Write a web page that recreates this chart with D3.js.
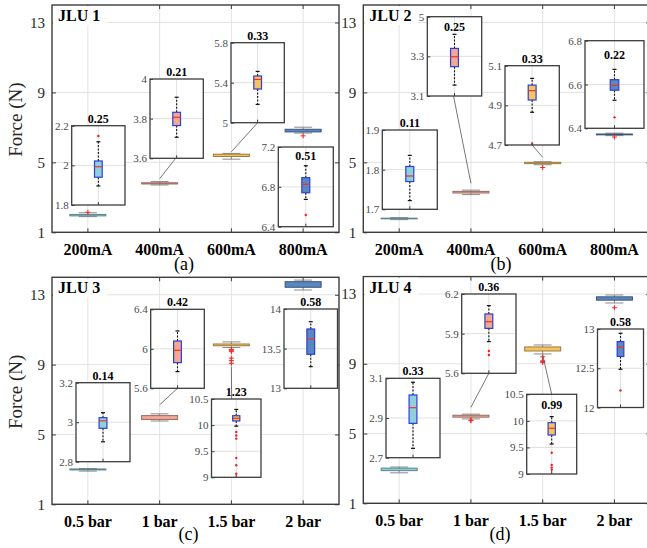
<!DOCTYPE html>
<html>
<head>
<meta charset="utf-8">
<script src="https://cdn.jsdelivr.net/npm/d3@7"></script>
<style>
body { margin: 0; background: #fff; }
svg text { font-family: "Liberation Serif", "Times New Roman", serif; }
</style>
</head>
<body>
<svg id="svg"></svg>
<script>
var currentCats = ["200mA", "400mA", "600mA", "800mA"];
var pressureCats = ["0.5 bar", "1 bar", "1.5 bar", "2 bar"];
var mainTicks = [1, 5, 9, 13];

// box stats per category: [lower whisker, q1, median, q3, upper whisker]
var jlu1Box = [[1.896, 1.94, 1.993, 2.022, 2.119], [3.706, 3.765, 3.807, 3.832, 3.908], [5.183, 5.337, 5.433, 5.467, 5.513], [6.674, 6.741, 6.825, 6.892, 7.012]];
var jlu1Out = [[2.148], [], [], [6.517]];
var jlu1Spread = ["0.25", "0.21", "0.33", "0.51"];
var jlu1Ticks = [[1.8, 2, 2.2], [3.6, 3.8, 4], [5, 5.4, 5.8], [6.4, 6.8, 7.2]];

var jlu2Box = [[1.722, 1.77, 1.784, 1.808, 1.836], [3.155, 3.248, 3.298, 3.34, 3.411], [4.865, 4.927, 4.974, 5.002, 5.036], [6.528, 6.574, 6.596, 6.622, 6.669]];
var jlu2Out = [[], [], [4.705], [6.45]];
var jlu2Spread = ["0.11", "0.25", "0.33", "0.22"];
var jlu2Ticks = [[1.7, 1.8, 1.9], [3.1, 3.3, 3.5], [4.7, 4.9, 5.1], [6.4, 6.6, 6.8]];

var jlu3Box = [[2.901, 2.969, 3.007, 3.023, 3.048], [5.769, 5.86, 5.985, 6.079, 6.181], [9.98, 10.08, 10.13, 10.18, 10.3], [13.273, 13.429, 13.622, 13.748, 13.84]];
var jlu3Out = [[], [], [9.07, 9.23, 9.37, 9.74, 9.8, 9.87], []];
var jlu3Spread = ["0.14", "0.42", "1.23", "0.58"];
var jlu3Ticks = [[2.8, 3, 3.2], [5.6, 6, 6.4], [9, 9.5, 10, 10.5], [13, 13.5, 14]];

var jlu4Box = [[2.747, 2.873, 2.952, 3.016, 3.08], [5.84, 5.94, 5.99, 6.049, 6.112], [9.564, 9.734, 9.86, 9.966, 10.08], [12.487, 12.65, 12.77, 12.84, 12.945]];
var jlu4Out = [[], [5.739, 5.769], [9.08, 9.12, 9.17, 9.4], [12.216]];
var jlu4Spread = ["0.33", "0.36", "0.99", "0.58"];
var jlu4Ticks = [[2.7, 2.9, 3.1], [5.6, 5.9, 6.2], [9, 9.5, 10, 10.5], [12, 12.5, 13]];

var boxColors = ["#8fd0dc", "#f4a795", "#f5c461", "#5b87c0"];

// layout: inset boxes [x, y, w, h], label baseline offset, link offset from median, link x shift
var panels = [
	{ title: "JLU 1", tag: "(a)", tagX: 184, tagY: 270, ylabel: true, left: 52, top: 5, bottom: 232.3,
		cats: currentCats, box: jlu1Box, out: jlu1Out, spread: jlu1Spread, ticks: jlu1Ticks,
		insets: [[71.7, 125.7, 53.3, 79.3], [150, 79, 53.3, 79.3], [231, 42.7, 53.3, 80], [278.3, 147, 55, 79.7]],
		labelDy: [-3, -3, -3, 13], link: [null, -4.5, -3, null], linkDx: [0, -1, 0, 0] },
	{ title: "JLU 2", tag: "(b)", tagX: 501, tagY: 270, ylabel: false, left: 363.3, top: 5, bottom: 232.3,
		cats: currentCats, box: jlu2Box, out: jlu2Out, spread: jlu2Spread, ticks: jlu2Ticks,
		insets: [[382.3, 130, 55, 79.3], [427.3, 16.7, 54.4, 79.3], [505, 65.7, 54.3, 79.3], [585, 40.7, 59, 87.6]],
		labelDy: [-3, 14, -3, 18], link: [null, -8.8, -5.5, null], linkDx: [0, -1, 0, 0] },
	{ title: "JLU 3", tag: "(c)", tagX: 188.5, tagY: 540, ylabel: true, left: 52, top: 277.3, bottom: 504.3,
		cats: pressureCats, box: jlu3Box, out: jlu3Out, spread: jlu3Spread, ticks: jlu3Ticks,
		insets: [[76, 382.7, 54, 79], [150.7, 309.3, 53.6, 79], [211.5, 399, 49.5, 78.3], [284, 309, 53.5, 79.3]],
		labelDy: [-3, -3, -3, -3], link: [null, -12.4, 21.6, null], linkDx: [0, 0, -4.6, 0] },
	{ title: "JLU 4", tag: "(d)", tagX: 500, tagY: 540, ylabel: false, left: 363.3, top: 276.6, bottom: 503.3,
		cats: pressureCats, box: jlu4Box, out: jlu4Out, spread: jlu4Spread, ticks: jlu4Ticks,
		insets: [[386, 378.3, 54, 79.4], [461.7, 294, 54.3, 79.3], [526.7, 394.3, 50, 79.7], [597.5, 329, 46, 78.5]],
		labelDy: [-3, -3, 14.5, -3], link: [null, -9, 6.2, null], linkDx: [0, 0, 0, 0] }
];

var svg = d3.select("#svg")
	.attr("width", 647)
	.attr("height", 548);

panels.forEach(drawPanel);

function styleAxis(a, size, weight, color) {
	a.select(".domain").remove();
	a.selectAll("line").attr("stroke", "#3c3c3c");
	a.selectAll("text")
		.attr("font-family", '"Liberation Serif", "Times New Roman", serif')
		.attr("font-size", size)
		.attr("font-weight", weight)
		.attr("fill", color);
}

function drawPanel(p) {
	var g = svg.append("g");
	var width = 287;
	var right = p.left + width;
	var x = d3.scaleBand().domain(p.cats).range([p.left, right]);
	var y = d3.scaleLinear().domain([1, 14]).range([p.bottom, p.top]);
	var cx = function(c) { return x(c) + x.bandwidth() / 2; };

	// grid
	g.selectAll(".gy").data(mainTicks).enter().append("line")
		.attr("class", "gy")
		.attr("x1", p.left).attr("x2", right)
		.attr("y1", y).attr("y2", y)
		.attr("stroke", "#e3e3e3");
	g.selectAll(".gx").data(p.cats).enter().append("line")
		.attr("class", "gx")
		.attr("x1", cx).attr("x2", cx)
		.attr("y1", p.top).attr("y2", p.bottom)
		.attr("stroke", "#e3e3e3");

	// axes, ticks inward
	g.append("g").attr("transform", "translate(" + p.left + ",0)")
		.call(d3.axisLeft(y).tickValues(mainTicks).tickSizeInner(-4).tickSizeOuter(0).tickPadding(7))
		.call(styleAxis, 15, "normal", "#262626");
	g.append("g").attr("transform", "translate(" + right + ",0)")
		.call(d3.axisRight(y).tickValues(mainTicks).tickSizeInner(-4).tickSizeOuter(0).tickFormat(""))
		.call(styleAxis, 15, "normal", "#262626");
	g.append("g").attr("transform", "translate(0," + p.bottom + ")")
		.call(d3.axisBottom(x).tickSizeInner(-4).tickSizeOuter(0).tickPadding(11))
		.call(styleAxis, 16, "bold", "#000");
	g.append("g").attr("transform", "translate(0," + p.top + ")")
		.call(d3.axisTop(x).tickSizeInner(-4).tickSizeOuter(0).tickFormat(""))
		.call(styleAxis, 16, "bold", "#000");

	var rows = p.cats.map(function(c, i) {
		return { cat: c, i: i, box: p.box[i], out: p.out[i], spread: p.spread[i], ticks: p.ticks[i],
			lay: p.insets[i], labelDy: p.labelDy[i], link: p.link[i], linkDx: p.linkDx[i] };
	});

	// main boxes
	var mb = g.selectAll(".mainbox").data(rows).enter().append("g").attr("class", "mainbox");
	mb.append("line")
		.attr("x1", function(d) { return cx(d.cat); }).attr("x2", function(d) { return cx(d.cat); })
		.attr("y1", function(d) { return y(d.box[0]); }).attr("y2", function(d) { return y(d.box[4]); })
		.attr("stroke", "#8a8a8a");
	[0, 4].forEach(function(k) {
		mb.append("line")
			.attr("x1", function(d) { return cx(d.cat) - 9; }).attr("x2", function(d) { return cx(d.cat) + 9; })
			.attr("y1", function(d) { return y(d.box[k]); }).attr("y2", function(d) { return y(d.box[k]); })
			.attr("stroke", "#8a8a8a");
	});
	mb.append("rect")
		.attr("x", function(d) { return cx(d.cat) - 18; })
		.attr("width", 36)
		.attr("y", function(d) { return y(d.box[3]); })
		.attr("height", function(d) { return y(d.box[1]) - y(d.box[3]); })
		.attr("fill", function(d) { return boxColors[d.i]; })
		.attr("stroke", function(d) { return d3.color(boxColors[d.i]).darker(1.3); });
	mb.selectAll(".plus").data(function(d) { return d.out.map(function(v) { return [cx(d.cat), y(v)]; }); })
		.enter().append("path")
		.attr("class", "plus")
		.attr("d", function(d) { return "M" + (d[0] - 2.5) + "," + d[1] + "h5M" + d[0] + "," + (d[1] - 2.5) + "v5"; })
		.attr("stroke", "#ff2020")
		.attr("stroke-width", 1);

	// connector lines
	rows.filter(function(d) { return d.link !== null; }).forEach(function(d) {
		var l = d.lay;
		var y0 = y(d.box[2]) + d.link;
		var down = l[1] > y0;
		g.append("line")
			.attr("x1", cx(d.cat)).attr("y1", y0)
			.attr("x2", l[0] + l[2] / 2 + d.linkDx).attr("y2", down ? l[1] : l[1] + l[3])
			.attr("stroke", "#555")
			.attr("stroke-width", 0.8);
	});

	// insets
	rows.forEach(function(d) { drawInset(g, d); });

	// frame
	g.append("rect")
		.attr("x", p.left).attr("y", p.top)
		.attr("width", width).attr("height", p.bottom - p.top)
		.attr("fill", "none")
		.attr("stroke", "#3c3c3c")
		.attr("stroke-width", 1.4);

	// title with white background
	g.append("rect")
		.attr("x", p.left + 1).attr("y", p.top + 1)
		.attr("width", 54).attr("height", 19)
		.attr("fill", "#fff");
	g.append("text")
		.attr("x", p.left + 6).attr("y", p.top + 16)
		.attr("font-size", 16).attr("font-weight", "bold")
		.text(p.title);

	if (p.ylabel) {
		g.append("text")
			.attr("transform", "translate(15," + ((p.top + p.bottom) / 2 + 1) + ") rotate(-90)")
			.attr("text-anchor", "middle")
			.attr("dy", "0.35em")
			.attr("font-size", 19)
			.attr("fill", "#262626")
			.text("Force (N)");
	}

	g.append("text")
		.attr("x", p.tagX).attr("y", p.tagY)
		.attr("text-anchor", "middle")
		.attr("font-size", 18)
		.text(p.tag);
}

function drawInset(g, d) {
	var x0 = d.lay[0], y0 = d.lay[1], w = d.lay[2], h = d.lay[3];
	var mid = x0 + w / 2;
	var bw = w * 0.145;
	var col = boxColors[d.i];
	var iy = d3.scaleLinear().domain(d3.extent(d.ticks)).range([y0 + h, y0]);
	var ig = g.append("g");

	ig.append("rect").attr("x", x0).attr("y", y0).attr("width", w).attr("height", h).attr("fill", "#fff");
	ig.selectAll(".ig").data(d.ticks.slice(1, -1)).enter().append("line")
		.attr("class", "ig")
		.attr("x1", x0).attr("x2", x0 + w)
		.attr("y1", iy).attr("y2", iy)
		.attr("stroke", "#e0e0e0");
	ig.append("line")
		.attr("x1", mid).attr("x2", mid).attr("y1", y0).attr("y2", y0 + h)
		.attr("stroke", "#e0e0e0");

	ig.append("g").attr("transform", "translate(" + x0 + ",0)")
		.call(d3.axisLeft(iy).tickValues(d.ticks).tickSizeInner(-3).tickSizeOuter(0).tickPadding(3).tickFormat(function(v) { return String(v); }))
		.call(styleAxis, 11, "normal", "#4a4a4a");
	ig.append("line")
		.attr("x1", mid).attr("x2", mid).attr("y1", y0 + h).attr("y2", y0 + h - 3)
		.attr("stroke", "#3c3c3c");

	// whiskers
	[[3, 4], [1, 0]].forEach(function(k) {
		ig.append("line")
			.attr("x1", mid).attr("x2", mid)
			.attr("y1", iy(d.box[k[0]])).attr("y2", iy(d.box[k[1]]))
			.attr("stroke", "#111").attr("stroke-width", 1.1)
			.attr("stroke-dasharray", "2,1.5");
		ig.append("line")
			.attr("x1", mid - 2).attr("x2", mid + 2)
			.attr("y1", iy(d.box[k[1]])).attr("y2", iy(d.box[k[1]]))
			.attr("stroke", "#111").attr("stroke-width", 1.2);
	});
	ig.append("rect")
		.attr("x", mid - bw / 2).attr("width", bw)
		.attr("y", iy(d.box[3])).attr("height", iy(d.box[1]) - iy(d.box[3]))
		.attr("fill", col)
		.attr("stroke", "#2a3fd8").attr("stroke-width", 1.2);
	ig.append("line")
		.attr("x1", mid - bw / 2).attr("x2", mid + bw / 2)
		.attr("y1", iy(d.box[2])).attr("y2", iy(d.box[2]))
		.attr("stroke", "#e8352a").attr("stroke-width", 1.2);
	ig.selectAll(".dot").data(d.out).enter().append("circle")
		.attr("class", "dot")
		.attr("cx", mid).attr("cy", iy)
		.attr("r", 1.2)
		.attr("fill", "#f02020");

	ig.append("rect").attr("x", x0).attr("y", y0).attr("width", w).attr("height", h)
		.attr("fill", "none").attr("stroke", "#3c3c3c").attr("stroke-width", 1.3);

	ig.append("text")
		.attr("x", mid).attr("y", y0 + d.labelDy)
		.attr("text-anchor", "middle")
		.attr("font-size", 12).attr("font-weight", "bold")
		.text(d.spread);
}
</script>
</body>
</html>
